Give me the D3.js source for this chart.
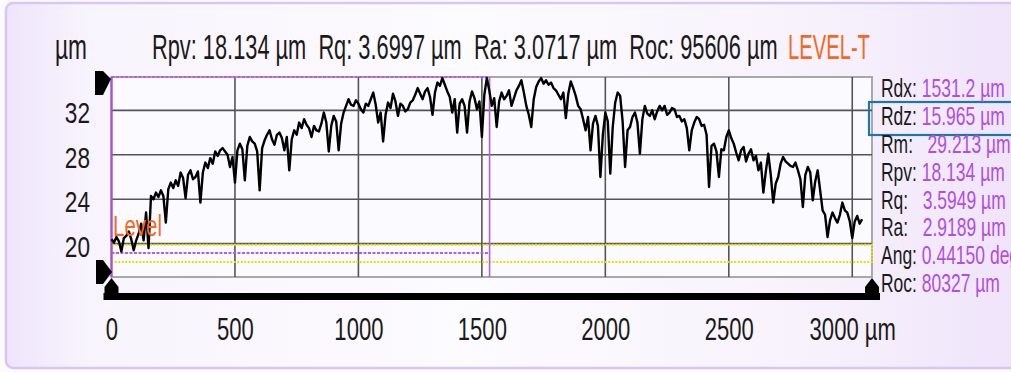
<!DOCTYPE html>
<html>
<head>
<meta charset="utf-8">
<script src="https://cdn.jsdelivr.net/npm/d3@7"></script>
<style>
  html, body { margin: 0; padding: 0; background: #fdfbff; }
  svg text { font-family: "Liberation Sans", Arial, sans-serif; white-space: pre; }
</style>
</head>
<body>
<div id="chart"></div>
<script>
// profile: position (µm) and height (µm)
const profileX = [
    0, 10, 20, 30, 40, 50, 60, 70, 80, 90, 100, 110, 120, 130, 140, 150, 160, 170, 180, 190,
    200, 210, 220, 230, 240, 250, 260, 270, 280, 290, 300, 310, 320, 330, 340, 350, 360, 370, 380, 390,
    400, 410, 420, 430, 440, 450, 460, 470, 480, 490, 500, 510, 520, 530, 540, 550, 560, 570, 580, 590,
    600, 610, 620, 630, 640, 650, 660, 670, 680, 690, 700, 710, 720, 730, 740, 750, 760, 770, 780, 790,
    800, 810, 820, 830, 840, 850, 860, 870, 880, 890, 900, 910, 920, 930, 940, 950, 960, 970, 980, 990,
    1000, 1010, 1020, 1030, 1040, 1050, 1060, 1070, 1080, 1090, 1100, 1110, 1120, 1130, 1140, 1150, 1160, 1170, 1180, 1190,
    1200, 1210, 1220, 1230, 1240, 1250, 1260, 1270, 1280, 1290, 1300, 1310, 1320, 1330, 1340, 1350, 1360, 1370, 1380, 1390,
    1400, 1410, 1420, 1430, 1440, 1450, 1460, 1470, 1480, 1490, 1500, 1510, 1520, 1530, 1540, 1550, 1560, 1570, 1580, 1590,
    1600, 1610, 1620, 1630, 1640, 1650, 1660, 1670, 1680, 1690, 1700, 1710, 1720, 1730, 1740, 1750, 1760, 1770, 1780, 1790,
    1800, 1810, 1820, 1830, 1840, 1850, 1860, 1870, 1880, 1890, 1900, 1910, 1920, 1930, 1940, 1950, 1960, 1970, 1980, 1990,
    2000, 2010, 2020, 2030, 2040, 2050, 2060, 2070, 2080, 2090, 2100, 2110, 2120, 2130, 2140, 2150, 2160, 2170, 2180, 2190,
    2200, 2210, 2220, 2230, 2240, 2250, 2260, 2270, 2280, 2290, 2300, 2310, 2320, 2330, 2340, 2350, 2360, 2370, 2380, 2390,
    2400, 2410, 2420, 2430, 2440, 2450, 2460, 2470, 2480, 2490, 2500, 2510, 2520, 2530, 2540, 2550, 2560, 2570, 2580, 2590,
    2600, 2610, 2620, 2630, 2640, 2650, 2660, 2670, 2680, 2690, 2700, 2710, 2720, 2730, 2740, 2750, 2760, 2770, 2780, 2790,
    2800, 2810, 2820, 2830, 2840, 2850, 2860, 2870, 2880, 2890, 2900, 2910, 2920, 2930, 2940, 2950, 2960, 2970, 2980, 2990,
    3000, 3010, 3020, 3030, 3040];
const profileZ = [
    20.4, 20.1, 20.6, 20.2, 19.3, 20.5, 20.7, 21.1, 20.4, 19.4, 20.3, 20.9, 21.8, 20.3, 22.8, 19.6, 24.3, 24.0, 24.6, 24.2,
    24.8, 24.3, 21.9, 24.9, 25.5, 25.0, 25.7, 25.2, 26.4, 25.9, 24.1, 26.2, 26.6, 25.8, 26.0, 26.5, 23.7, 26.4, 27.3, 26.8,
    27.7, 27.2, 28.3, 27.9, 28.4, 28.6, 28.3, 28.0, 26.9, 27.8, 25.5, 28.4, 29.0, 28.5, 25.7, 28.8, 29.6, 29.2, 29.0, 28.3,
    24.8, 28.6, 29.3, 29.8, 30.2, 29.4, 28.9, 29.8, 30.0, 29.5, 28.4, 29.6, 26.6, 29.4, 30.2, 29.8, 30.9, 30.4, 31.2, 30.7,
    30.4, 29.6, 30.6, 30.2, 30.1, 30.8, 31.8, 30.9, 28.3, 30.6, 31.5, 31.0, 28.4, 30.8, 31.8, 32.4, 33.0, 32.5, 32.4, 32.9,
    32.6, 32.1, 31.8, 32.6, 32.4, 33.0, 33.6, 32.5, 30.9, 31.8, 29.2, 31.6, 32.7, 32.2, 33.5, 32.8, 31.5, 32.6, 32.4, 31.9,
    32.1, 32.7, 32.9, 33.4, 34.0, 33.5, 33.0, 33.7, 34.0, 33.2, 31.6, 33.6, 34.5, 34.2, 34.9, 34.3, 33.7, 33.2, 31.8, 33.0,
    30.0, 32.6, 33.0, 32.4, 30.0, 32.8, 33.7, 33.1, 32.1, 32.8, 29.6, 33.4, 34.9, 33.8, 32.4, 33.1, 30.5, 32.8, 33.6, 33.0,
    33.3, 33.8, 32.4, 33.1, 33.8, 34.2, 34.7, 33.6, 32.4, 31.6, 30.5, 33.0, 34.1, 34.6, 34.9, 34.4, 34.7, 34.3, 34.5, 34.0,
    33.8, 33.4, 33.0, 33.6, 31.3, 33.5, 34.6, 34.0, 33.3, 32.4, 32.1, 31.2, 30.2, 31.4, 28.4, 30.8, 31.5, 30.6, 26.0, 29.8,
    31.8, 31.0, 26.3, 30.5, 32.7, 33.6, 33.3, 31.0, 26.9, 30.2, 30.5, 31.4, 31.8, 30.9, 28.1, 31.2, 32.4, 31.7, 31.5, 32.0,
    31.2, 31.9, 32.4, 32.0, 32.4, 31.6, 31.8, 32.2, 32.1, 31.4, 31.5, 31.0, 31.2, 30.4, 28.4, 30.2, 30.9, 31.4, 31.2, 30.6,
    30.7, 29.8, 25.1, 28.8, 29.0, 28.3, 26.0, 28.5, 28.4, 29.6, 30.2, 29.5, 29.0, 28.2, 27.5, 28.4, 28.7, 27.4, 28.1, 28.5,
    27.5, 27.9, 26.6, 27.3, 24.6, 26.5, 28.1, 26.2, 23.7, 25.4, 26.0, 27.2, 27.8, 27.4, 27.2, 27.0, 26.9, 27.3, 26.6, 25.8,
    23.3, 26.2, 26.9, 26.4, 23.9, 25.6, 26.6, 24.8, 23.0, 22.6, 20.6, 22.1, 22.8, 22.3, 21.9, 22.6, 23.7, 23.0, 22.8, 22.0,
    20.5, 22.0, 22.5, 21.8, 22.2];

const xTicks = [0, 500, 1000, 1500, 2000, 2500, 3000];
const xTickLabels = ["0", "500", "1000", "1500", "2000", "2500", "3000 µm"];
const yTicks = [20, 24, 28, 32];

const titleText = "Rpv: 18.134 µm  Rq: 3.6997 µm  Ra: 3.0717 µm  Roc: 95606 µm";
const modeText = "LEVEL-T";
const sideLabels = ["Rdx:", "Rdz:", "Rm:  ", "Rpv:", "Rq:  ", "Ra:  ", "Ang:", "Roc:"];
const sideValues = ["1531.2 µm", "15.965 µm", "29.213 µm", "18.134 µm", "3.5949 µm", "2.9189 µm", "0.44150 deg", "80327 µm"];

const cursorX = 1531.2;          // Rdx cursor
const levelBand = [18.35, 19.9]; // yellow level band
const levelLine = 19.15;         // purple dashed level

const W = 1011, H = 372;
const svg = d3.select('#chart').append('svg')
    .attr('width', W)
    .attr('height', H);

const defs = svg.append('defs');
const grad = defs.append('linearGradient').attr('id', 'panelGrad');
[[0, '#efe5fb'], [0.08, '#f8f4fd'], [0.45, '#fcfbfe'], [0.8, '#f7f1fc'], [1, '#eee2fa']].forEach(s => {
    grad.append('stop').attr('offset', s[0]).attr('stop-color', s[1]);
});

// panel
svg.append('rect')
    .attr('x', 6).attr('y', 3)
    .attr('width', W + 20).attr('height', 365)
    .attr('rx', 7)
    .attr('fill', 'url(#panelGrad)')
    .attr('stroke', '#d8c6f4')
    .attr('stroke-width', 2.5);

let x = d3.scaleLinear().domain([0, 3080]).range([111.5, 872]);
let y = d3.scaleLinear().domain([17, 35]).range([277, 77]);

// squeeze text horizontally around its anchor (the original uses a tall narrow face)
// k < 1 is a factor; k > 1 is a target width in px
function squeeze(sel, k) {
    sel.each(function() {
        let t = d3.select(this);
        let w = this.getComputedTextLength();
        let f = k > 1 ? k / w : k;
        let ax = +t.attr('x') || 0, ay = +t.attr('y') || 0;
        t.attr('transform', 'translate(' + ax + ',' + ay + ') scale(' + f + ',1) translate(' + (-ax) + ',' + (-ay) + ')');
    });
}

let g = svg.append('g');

// plot frame
g.append('rect')
    .attr('x', x(0)).attr('y', y(35))
    .attr('width', x(3080) - x(0)).attr('height', y(17) - y(35))
    .attr('fill', '#fbfaff')
    .attr('stroke', '#a8a8a8')
    .attr('stroke-width', 2);

// grid
g.append('g')
    .selectAll('line')
    .data(xTicks.slice(1))
    .enter()
    .append('line')
    .attr('x1', d => x(d)).attr('x2', d => x(d))
    .attr('y1', y(35)).attr('y2', y(17))
    .attr('stroke', '#555')
    .attr('stroke-width', 1.6);

g.append('g')
    .selectAll('line')
    .data(yTicks)
    .enter()
    .append('line')
    .attr('x1', x(0)).attr('x2', x(3080))
    .attr('y1', d => y(d)).attr('y2', d => y(d))
    .attr('stroke', '#555')
    .attr('stroke-width', 1.6);

// level band (yellow dotted box)
g.append('rect')
    .attr('x', x(0)).attr('y', y(levelBand[1]))
    .attr('width', x(3080) - x(0)).attr('height', y(levelBand[0]) - y(levelBand[1]))
    .attr('fill', 'none')
    .attr('stroke', '#e6e000')
    .attr('stroke-width', 2)
    .attr('stroke-dasharray', '2,1.5');

// purple cursor region
g.append('line')
    .attr('x1', x(0)).attr('x2', x(cursorX))
    .attr('y1', y(35)).attr('y2', y(35))
    .attr('stroke', '#b45ee6').attr('stroke-width', 2).attr('stroke-dasharray', '3,1.5');
g.append('line')
    .attr('x1', x(0)).attr('x2', x(cursorX))
    .attr('y1', y(levelLine)).attr('y2', y(levelLine))
    .attr('stroke', '#b45ee6').attr('stroke-width', 2).attr('stroke-dasharray', '3,1.5');
g.append('line')
    .attr('x1', x(cursorX)).attr('x2', x(cursorX))
    .attr('y1', y(35)).attr('y2', y(17))
    .attr('stroke', '#b45ee6').attr('stroke-width', 1.6);
g.append('line')
    .attr('x1', x(0)).attr('x2', x(0))
    .attr('y1', y(35)).attr('y2', y(17))
    .attr('stroke', '#a94fe0').attr('stroke-width', 2.2);

// the profile
let line = d3.line()
    .x(d => x(d[0]))
    .y(d => y(d[1]));

g.append('path')
    .datum(profileX.map((v, i) => [v, profileZ[i]]))
    .attr('fill', 'none')
    .attr('stroke', '#000')
    .attr('stroke-width', 2.4)
    .attr('stroke-linejoin', 'round')
    .attr('d', line);

// "Level" label
g.append('text')
    .attr('x', 113).attr('y', 236)
    .attr('font-size', 30)
    .attr('fill', '#f26a21')
    .text('Level')
    .call(squeeze, 49);

// markers
const mk = '#000';
g.append('polygon').attr('fill', mk)
    .attr('points', [[95, 71], [103, 71], [111, 79], [103, 95], [95, 95]].join(' '));
g.append('polygon').attr('fill', mk)
    .attr('points', [[96, 260], [103, 260], [112, 272], [103, 284], [96, 284]].join(' '));
g.append('rect')
    .attr('x', x(0) - 8).attr('y', 293)
    .attr('width', x(3080) - x(0) + 16).attr('height', 7)
    .attr('fill', mk);
[0, 3080].forEach(v => {
    let cx = x(v);
    g.append('polygon').attr('fill', mk)
        .attr('points', [[cx - 7, 294], [cx - 7, 287], [cx, 278], [cx + 7, 287], [cx + 7, 294]].join(' '));
});

// x axis labels
let xAxis = g.append('g')
    .attr('transform', 'translate(0,' + 340 + ')')
    .call(d3.axisBottom(x).tickValues(xTicks).tickSize(0).tickPadding(0)
        .tickFormat((d, i) => xTickLabels[i]));
xAxis.select('.domain').remove();
xAxis.selectAll('text')
    .attr('dy', 0).attr('y', 0)
    .attr('fill', '#1a1a1a')
    .attr('font-size', 32)
    .style('font-family', '"Liberation Sans", Arial, sans-serif')
    .call(squeeze, 0.69);

// y axis labels
let yAxis = g.append('g')
    .attr('transform', 'translate(' + 90 + ',0)')
    .call(d3.axisLeft(y).tickValues(yTicks).tickSize(0).tickPadding(0));
yAxis.select('.domain').remove();
yAxis.selectAll('text')
    .attr('x', 0).attr('dy', '0.43em')
    .attr('fill', '#1a1a1a')
    .attr('font-size', 29)
    .style('font-family', '"Liberation Sans", Arial, sans-serif')
    .call(squeeze, 0.78);

// unit + title
svg.append('text')
    .attr('x', 55).attr('y', 59)
    .attr('font-size', 35)
    .attr('fill', '#1a1a1a')
    .text('µm')
    .call(squeeze, 32);
svg.append('text')
    .attr('x', 152).attr('y', 59)
    .attr('font-size', 35)
    .attr('fill', '#1a1a1a')
    .text(titleText)
    .call(squeeze, 626);
svg.append('text')
    .attr('x', 788).attr('y', 59)
    .attr('font-size', 35)
    .attr('fill', '#f26a21')
    .text(modeText)
    .call(squeeze, 82);

// readout on the right
let side = svg.append('g');
side.append('rect')
    .attr('x', 869).attr('y', 102)
    .attr('width', 160).attr('height', 33)
    .attr('fill', 'none')
    .attr('stroke', '#1b78a6')
    .attr('stroke-width', 2.2);
sideLabels.forEach((lab, i) => {
    let t = side.append('text')
        .attr('x', 881).attr('y', 97 + i * 27.9)
        .attr('font-size', 25);
    t.append('tspan').attr('fill', '#1a1a1a').text(lab + ' ');
    t.append('tspan').attr('fill', '#b04ede').text(sideValues[i]);
    t.call(squeeze, 0.7);
});
</script>
</body>
</html>
